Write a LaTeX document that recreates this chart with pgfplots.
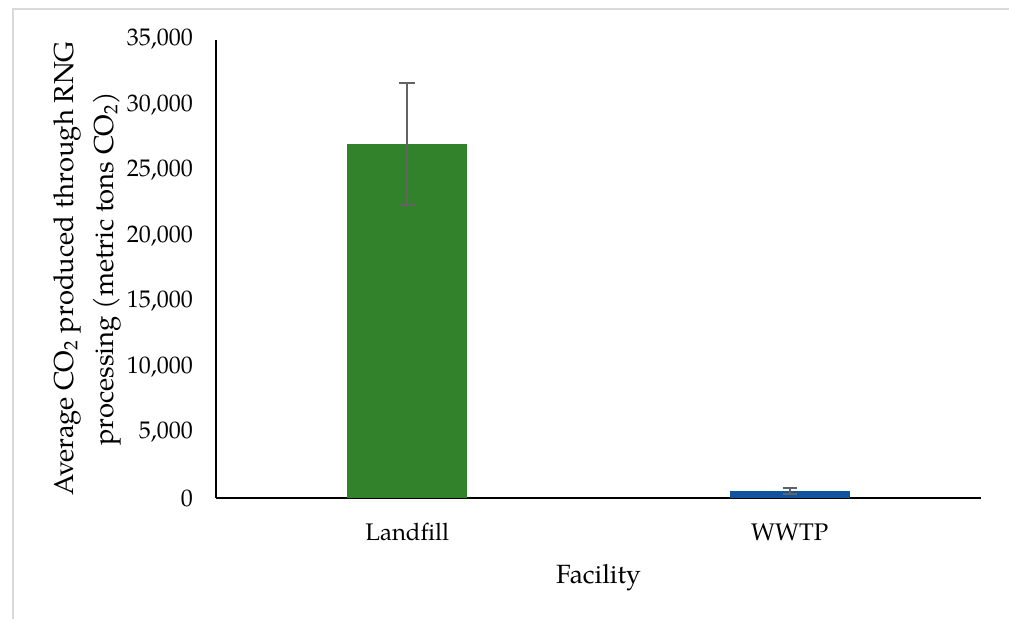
\documentclass[border=0pt]{standalone}
\usepackage{pgfplots}
\pgfplotsset{compat=1.18}
\usepackage{fontspec}
\setmainfont{TeX Gyre Pagella}
\definecolor{lfgreen}{RGB}{49,130,42}
\definecolor{wwblue}{RGB}{16,84,158}
\definecolor{errgray}{RGB}{99,99,99}
\definecolor{framegray}{RGB}{217,217,217}
\pgfplotstableread{
x y err
0 27050 4650
}\landfill
\pgfplotstableread{
x y err
1 560 220
}\wwtp
\begin{document}
\begin{tikzpicture}
\useasboundingbox (-108pt,-60pt) rectangle (396.5pt,249pt);
\draw[framegray, line width=1pt] (-101.5pt,-61pt) -- (-101.5pt,244.5pt) -- (397pt,244.5pt);
\begin{axis}[
  at={(0pt,0pt)}, anchor=south west,
  scale only axis, width=382.5pt, height=229.25pt,
  xmin=-0.5, xmax=1.5, ymin=0, ymax=35000,
  axis x line=bottom, axis y line=left,
  axis line style={-, line width=1pt, black},
  hide obscured y ticks=false,
  hide obscured x ticks=false,
  xtick={0,1}, xticklabels={Landfill, WWTP},
  ytick={0,5000,...,35000},
  major tick length=0pt,
  scaled y ticks=false,
  /pgf/number format/1000 sep={,},
  /pgf/number format/assume math mode=true,
  tick label style={font=\fontsize{12}{14}\selectfont},
  yticklabel style={xshift=-8pt},
  xticklabel style={anchor=base, yshift=-21.3pt},
  xlabel={Facility},
  xlabel style={at={(axis description cs:0.5,0)}, anchor=base, yshift=-42.7pt, font=\fontsize{13.2}{20}\selectfont},
  ylabel={Average CO\textsubscript{2} produced through RNG\\processing (metric tons CO\textsubscript{2})},
  ylabel style={at={(axis description cs:-0.1686,0.5)}, anchor=center, align=center, font=\fontsize{13.7}{20}\selectfont},
  ybar, bar width=60pt, bar shift=0pt,
  clip=false,
]
\addplot[draw=none, fill=lfgreen,
  error bars/.cd, y dir=both, y explicit,
  error bar style={errgray, line width=1pt},
  error mark options={errgray, rotate=90, mark size=4pt, line width=1pt}]
  table[x=x, y=y, y error=err] {\landfill};
\addplot[draw=none, fill=wwblue,
  error bars/.cd, y dir=both, y explicit,
  error bar style={errgray, line width=1pt},
  error mark options={errgray, rotate=90, mark size=3.5pt, line width=1pt}]
  table[x=x, y=y, y error=err] {\wwtp};
\end{axis}
\end{tikzpicture}
\end{document}
